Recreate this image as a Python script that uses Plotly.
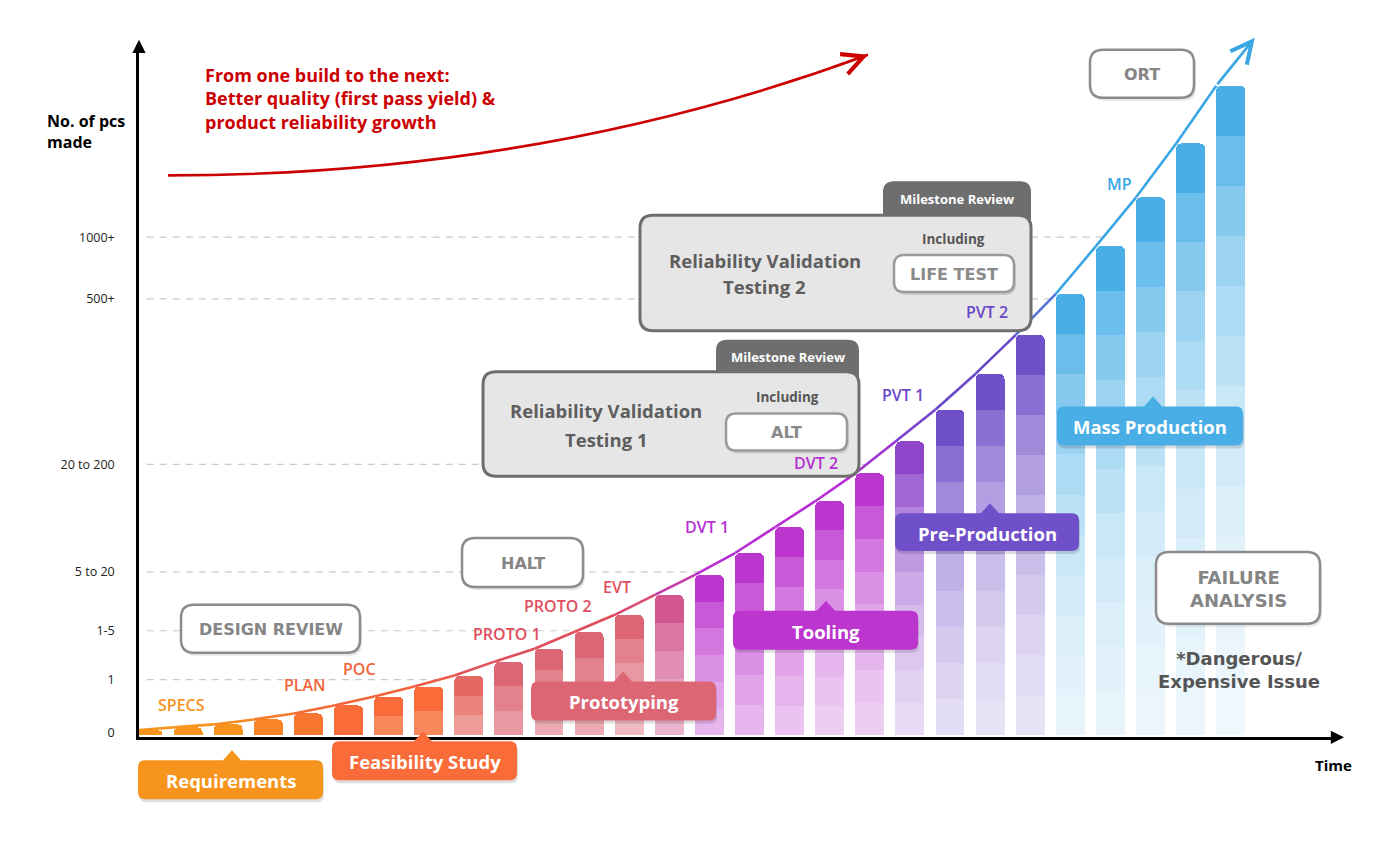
import numpy as np
import plotly.graph_objects as go

W, H = 1400, 844
FONT = "Open Sans"
CAPS = "DejaVu Sans"

# ---- data ----
builds = list(range(28))
heights = [5, 8, 11, 16, 22, 30, 39, 49, 60, 74, 87, 104, 121, 141, 161, 183, 209,
           235, 263, 295, 327, 363, 402, 443, 491, 540, 594, 652]
# which phase each build belongs to (fractions = bar shading over into the next phase)
bar_phase = [0, 0, 0, 0.4, 0.7, 1, 1, 1, 1.7, 2, 2, 2, 2, 2.3, 3, 3, 3, 3, 3, 3.6,
             4, 4, 4, 5, 5, 5, 5, 5]

phases = ["Requirements", "Feasibility Study", "Prototyping", "Tooling",
          "Pre-Production", "Mass Production"]
phase_fill = ["#F7941D", "#F96B38", "#DD6674", "#BC35CF", "#7050C8", "#4AAEE6"]
phase_line = ["#F7941D", "#F2643A", "#E04E5C", "#B62FD2", "#6B47CA", "#3AA6E3"]

stage_labels = ["SPECS", "PLAN", "POC", "PROTO 1", "PROTO 2", "EVT", "DVT 1", "DVT 2",
                "PVT 1", "PVT 2", "MP"]
stage_phase = [0, 1, 1, 2, 2, 2, 3, 3, 4, 4, 5]

y_tick_vals = [3, 56, 105, 164, 272, 438, 500]
y_tick_text = ["0", "1", "1-5", "5 to 20", "20 to 200", "500+", "1000+"]

# ---- pixel <-> axis helpers (bar k sits at pixel 148 + 40.1*k, base at pixel 738) ----
X0, DX, BASE = 148, 40.1, 738
HALF_W = 0.36


def hex_rgb(c):
    return np.array([int(c[i:i + 2], 16) for i in (1, 3, 5)], float)


def mix(c1, c2, t):
    r, g, b = hex_rgb(c1) * (1 - t) + hex_rgb(c2) * t
    return "#%02X%02X%02X" % (int(round(r)), int(round(g)), int(round(b)))


def phase_color(p, pal):
    lo = int(np.floor(p))
    hi = min(lo + 1, len(pal) - 1)
    return mix(pal[lo], pal[hi], p - lo)


def P(x, y):
    return f"{x / W:.5f},{1 - y / H:.5f}"


def box_path(x0, y0, x1, y1, r, notch=None, round_bottom=True):
    rb = r if round_bottom else 0
    s = f"M{P(x0 + r, y0)}"
    if notch:
        tx, ty = notch
        s += f" L{P(tx - 9, y0)} L{P(tx, ty)} L{P(tx + 9, y0)}"
    s += f" L{P(x1 - r, y0)} Q{P(x1, y0)} {P(x1, y0 + r)}"
    s += f" L{P(x1, y1 - rb)} Q{P(x1, y1)} {P(x1 - rb, y1)}"
    s += f" L{P(x0 + rb, y1)} Q{P(x0, y1)} {P(x0, y1 - rb)}"
    s += f" L{P(x0, y0 + r)} Q{P(x0, y0)} {P(x0 + r, y0)} Z"
    return s


fig = go.Figure()

# dashed guide lines, each ending where it meets the growth curve
corner_x = [k - HALF_W for k in builds]
for v in y_tick_vals[1:]:
    x_end = float(np.interp(v, heights, corner_x))
    fig.add_trace(go.Scatter(x=[-0.03, x_end], y=[v, v], mode="lines",
                             line=dict(color="#CACACA", width=1.2, dash="7px,6px"),
                             hoverinfo="skip", showlegend=False))

# stacked shaded bars: darkest band on top, fading to white further down
n_seg = [max(1, int(round((k - 3) / 1.85))) for k in builds]
levels = max(n_seg)
for m in range(levels):
    j = levels - 1 - m
    ys, cols = [], []
    for k, h in enumerate(heights):
        if j < n_seg[k]:
            ys.append(h / n_seg[k])
            cols.append(mix(phase_color(bar_phase[k], phase_fill), "#FFFFFF",
                            min(0.95, 1 - np.exp(-0.2 * j))))
        else:
            ys.append(0)
            cols.append("rgba(0,0,0,0)")
    fig.add_trace(go.Bar(x=builds, y=ys, width=2 * HALF_W,
                         marker=dict(color=cols, line=dict(width=0)),
                         hoverinfo="skip", showlegend=False))

# growth curve through the bar corners, colour shifting phase by phase
for i in range(len(builds) - 1):
    c = phase_color((bar_phase[i] + bar_phase[i + 1]) / 2, phase_line)
    fig.add_trace(go.Scatter(x=corner_x[i:i + 2], y=heights[i:i + 2], mode="lines",
                             line=dict(color=c, width=2.6),
                             hoverinfo="skip", showlegend=False))

shapes = []
ann = []


def text(x, y, t, size, color, family=FONT, **kw):
    ann.append(dict(x=x / W, y=1 - y / H, xref="paper", yref="paper", text=f"<b>{t}</b>",
                    showarrow=False, font=dict(family=family, size=size, color=color),
                    xanchor=kw.get("xanchor", "center"), yanchor="middle",
                    align=kw.get("align", "center")))


# end of the curve + arrow heads
ann.append(dict(x=27.6, y=700, xref="x", yref="y", axref="x", ayref="y",
                ax=corner_x[-1], ay=heights[-1], text="", showarrow=True,
                arrowhead=5, arrowsize=1.6, arrowwidth=2.6, arrowcolor=phase_line[-1]))
ann.append(dict(x=139 / W, y=1 - 40 / H, xref="paper", yref="paper", ax=0, ay=14, text="",
                showarrow=True, arrowhead=2, arrowsize=1.2, arrowwidth=2.2, arrowcolor="black"))
ann.append(dict(x=1344 / W, y=1 - 740 / H, xref="paper", yref="paper", ax=-14, ay=0, text="",
                showarrow=True, arrowhead=2, arrowsize=1.2, arrowwidth=2.2, arrowcolor="black"))

# red "quality growth" arrow
shapes.append(dict(type="path", xref="paper", yref="paper", layer="above",
                   path=f"M{P(168, 176)} Q{P(542, 176)} {P(868, 55)}",
                   line=dict(color="#CC0000", width=2.6), fillcolor="rgba(0,0,0,0)"))
ann.append(dict(x=868 / W, y=1 - 55 / H, xref="paper", yref="paper", ax=-13, ay=5, text="",
                showarrow=True, arrowhead=5, arrowsize=1.6, arrowwidth=2.6, arrowcolor="#CC0000"))
text(203, 99, "From one build to the next:<br>Better quality (first pass yield) &amp;<br>"
     "product reliability growth", 18, "#CC0000", xanchor="left", align="left")

text(45, 132, "No. of pcs<br>made", 16, "black", xanchor="left", align="left")
text(1333, 768, "Time", 15, "black")

# milestone review boxes
milestones = [
    dict(box=(483, 373, 859, 478), tab=(716, 341), title=(606, 412, 441), inc=(787, 398),
         test="ALT", tbox=(726, 415, 847, 452)),
    dict(box=(640, 216, 1031, 332), tab=(883, 182), title=(765, 261, 288), inc=(954, 240),
         test="LIFE TEST", tbox=(894, 256, 1014, 293)),
]
for i, ms in enumerate(milestones):
    x0, y0, x1, y1 = ms["box"]
    tx0, ty0 = ms["tab"]
    shapes.append(dict(type="path", xref="paper", yref="paper", layer="above",
                       path=box_path(tx0, ty0, x1, y0 + 12, 11, round_bottom=False),
                       fillcolor="#6E6E6E", line=dict(width=0)))
    shapes.append(dict(type="path", xref="paper", yref="paper", layer="above",
                       path=box_path(x0, y0, x1, y1, 13),
                       fillcolor="#E6E6E6", line=dict(color="#6E6E6E", width=3)))
    bx0, by0, bx1, by1 = ms["tbox"]
    shapes.append(dict(type="path", xref="paper", yref="paper", layer="above",
                       path=box_path(bx0 + 2, by0 + 3, bx1 + 2, by1 + 3, 10),
                       fillcolor="rgba(0,0,0,0.12)", line=dict(width=0)))
    shapes.append(dict(type="path", xref="paper", yref="paper", layer="above",
                       path=box_path(bx0, by0, bx1, by1, 10),
                       fillcolor="white", line=dict(color="#9A9A9A", width=2.5)))
    text((tx0 + x1) / 2, (ty0 + y0) / 2 + 1, "Milestone Review", 13, "white")
    cx, l1, l2 = ms["title"]
    text(cx, l1, "Reliability Validation", 18.5, "#5E5E5E")
    text(cx, l2, f"Testing {i + 1}", 18.5, "#5E5E5E")
    text(ms["inc"][0], ms["inc"][1], "Including", 13.5, "#555555")
    text((bx0 + bx1) / 2, (by0 + by1) / 2 + 1, ms["test"], 16, "#8A8A8A", family=CAPS)

# grey outlined boxes
outlined = [
    ("DESIGN REVIEW", (181, 607, 360, 655), 16),
    ("HALT", (462, 540, 583, 589), 16),
    ("ORT", (1090, 50, 1194, 98), 16),
    ("FAILURE<br>ANALYSIS", (1156, 554, 1320, 626), 18),
]
for t, (x0, y0, x1, y1), s in outlined:
    shapes.append(dict(type="path", xref="paper", yref="paper", layer="above",
                       path=box_path(x0 + 2, y0 + 3, x1 + 2, y1 + 3, 13),
                       fillcolor="rgba(0,0,0,0.10)", line=dict(width=0)))
    shapes.append(dict(type="path", xref="paper", yref="paper", layer="above",
                       path=box_path(x0, y0, x1, y1, 13),
                       fillcolor="white", line=dict(color="#8C8C8C", width=2.5)))
    text((x0 + x1) / 2, (y0 + y1) / 2 + 1, t, s, "#858585", family=CAPS)
text(1239, 672, "*Dangerous/<br>Expensive Issue", 18, "#555555", family=CAPS)

# coloured phase call-outs
callouts = [
    ((138, 763, 323, 802), (232, 753)),
    ((332, 744, 517, 783), (423, 734)),
    ((531, 684, 716, 723), (623, 674)),
    ((733, 613, 918, 652), (826, 603)),
    ((895, 515, 1079, 553), (990, 505)),
    ((1057, 408, 1243, 447), (1153, 398)),
]
for i, ((x0, y0, x1, y1), tip) in enumerate(callouts):
    shapes.append(dict(type="path", xref="paper", yref="paper", layer="above",
                       path=box_path(x0 + 1, y0 + 3, x1 + 1, y1 + 3, 7),
                       fillcolor="rgba(0,0,0,0.13)", line=dict(width=0)))
    shapes.append(dict(type="path", xref="paper", yref="paper", layer="above",
                       path=box_path(x0, y0, x1, y1, 7, notch=tip),
                       fillcolor=phase_fill[i], line=dict(width=0)))
    text((x0 + x1) / 2, (y0 + y1) / 2 + 1, phases[i], 18.5, "white")

# build stage labels along the curve
stage_pos = [(181, 708), (305, 687), (360, 671), (507, 636), (558, 608), (617, 589),
             (707, 529), (816, 465), (903, 396), (987, 313), (1119, 185)]
for lab, p, (x, y) in zip(stage_labels, stage_phase, stage_pos):
    ann.append(dict(x=x / W, y=1 - y / H, xref="paper", yref="paper", text=lab, showarrow=False,
                    font=dict(family=FONT, size=16, color=phase_line[p], weight=600),
                    xanchor="center", yanchor="middle"))

fig.update_layout(
    width=W, height=H,
    margin=dict(l=0, r=0, t=0, b=0),
    paper_bgcolor="white", plot_bgcolor="rgba(0,0,0,0)",
    barmode="stack", barcornerradius=5,
    showlegend=False,
    shapes=shapes, annotations=ann,
    font=dict(family=FONT),
    xaxis=dict(domain=[139 / W, 1335 / W], range=[(139 - X0) / DX, (1335 - X0) / DX],
               showline=True, linecolor="black", linewidth=2.5, showticklabels=False,
               ticks="", showgrid=False, zeroline=False, fixedrange=True),
    yaxis=dict(domain=[1 - 740 / H, 1 - 45 / H], range=[BASE - 740, BASE - 45],
               showline=True, linecolor="black", linewidth=2.5, ticks="",
               tickvals=y_tick_vals, ticktext=y_tick_text, ticklabelstandoff=19,
               tickfont=dict(family=FONT, size=12.5, color="#222222"),
               showgrid=False, zeroline=False, fixedrange=True),
)

fig.write_html("out.html", config={"displayModeBar": False},
               post_script="document.body.style.margin='0';")
